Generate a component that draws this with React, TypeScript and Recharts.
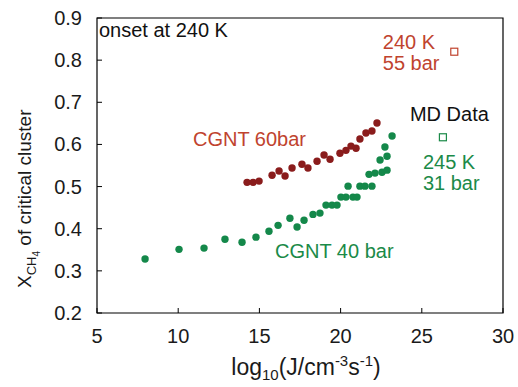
import React from 'react';
import { ScatterChart, Scatter, XAxis, YAxis, ReferenceArea, ReferenceDot, Label } from 'recharts';

// CGNT 60 bar (dark red dots)
const cgnt60X = [14.24, 14.61, 14.98, 15.78, 16.21, 16.58, 17.01, 17.62, 17.99, 18.55, 18.98, 19.35, 19.96, 20.33, 20.64, 20.95, 21.19, 21.56, 21.93, 22.24];
const cgnt60Y = [0.51, 0.51, 0.513, 0.527, 0.537, 0.525, 0.544, 0.553, 0.544, 0.56, 0.575, 0.565, 0.579, 0.586, 0.596, 0.591, 0.613, 0.627, 0.632, 0.651];

// CGNT 40 bar (green dots)
const cgnt40X = [7.96, 10.05, 11.59, 12.88, 13.93, 14.79, 15.59, 16.15, 16.88, 17.32, 17.75, 18.3, 18.73, 19.1, 19.47, 19.78, 20.02, 20.33, 20.76, 21.01, 20.46, 21.19, 21.5, 21.93, 21.75, 22.12, 22.55, 22.86, 22.43, 22.86, 22.73, 23.17];
const cgnt40Y = [0.328, 0.351, 0.354, 0.375, 0.368, 0.38, 0.394, 0.408, 0.425, 0.404, 0.42, 0.434, 0.437, 0.456, 0.456, 0.456, 0.475, 0.475, 0.475, 0.475, 0.501, 0.501, 0.501, 0.501, 0.529, 0.532, 0.534, 0.539, 0.563, 0.572, 0.594, 0.62];

// MD data (open squares)
const md240X = [27.0];
const md240Y = [0.82];
const md245X = [26.3];
const md245Y = [0.617];

const xTicks = [5, 10, 15, 20, 25, 30];
const yTicks = [0.2, 0.3, 0.4, 0.5, 0.6, 0.7, 0.8, 0.9];

const zip = (xs: number[], ys: number[]) => xs.map((x, i) => ({ x, y: ys[i] }));

const RED_DOT = '#8a1c1c';
const GREEN_DOT = '#14884a';
const RED_TEXT = '#c0432e';
const GREEN_TEXT = '#1b8a48';

const FONT = 20;

const annotations = [
  { text: 'onset at 240 K', x: 5.12, y: 0.872, color: '#111' },
  { text: '240 K', x: 22.6, y: 0.843, color: RED_TEXT },
  { text: '55 bar', x: 22.6, y: 0.793, color: RED_TEXT },
  { text: 'MD Data', x: 24.27, y: 0.672, color: '#111' },
  { text: '245 K', x: 25.07, y: 0.558, color: GREEN_TEXT },
  { text: '31 bar', x: 25.07, y: 0.508, color: GREEN_TEXT },
  { text: 'CGNT 60bar', x: 10.91, y: 0.613, color: RED_TEXT },
  { text: 'CGNT 40 bar', x: 15.96, y: 0.347, color: GREEN_TEXT },
];

const YTick = (props: any) => {
  const { x, y, payload } = props;
  const ax = x + 15;
  return (
    <g>
      <line x1={ax} x2={ax + 5} y1={y} y2={y} stroke="#000" />
      <text x={x} y={y} dy={7} textAnchor="end" fontSize={FONT} fill="#1a1a1a">
        {payload.value.toFixed(1)}
      </text>
    </g>
  );
};

const XTick = (props: any) => {
  const { x, y, payload } = props;
  const ay = y - 15;
  return (
    <g>
      <line x1={x} x2={x} y1={ay} y2={ay - 5} stroke="#000" />
      <text x={x} y={y} dy={15} textAnchor="middle" fontSize={FONT} fill="#1a1a1a">
        {payload.value}
      </text>
    </g>
  );
};

const XLabelContent = () => (
  <text x={306} y={375} textAnchor="middle" fontSize={23} fill="#1a1a1a">
    <tspan>log</tspan>
    <tspan fontSize={15} dy={5}>10</tspan>
    <tspan dy={-5}>(J/cm</tspan>
    <tspan fontSize={15} dy={-9}>-3</tspan>
    <tspan dy={9}>s</tspan>
    <tspan fontSize={15} dy={-9}>-1</tspan>
    <tspan dy={9}>)</tspan>
  </text>
);

const YLabelContent = () => (
  <text x={0} y={0} transform="translate(31, 288) rotate(-90)" textAnchor="start" fontSize={19} fill="#1a1a1a">
    <tspan>X</tspan>
    <tspan fontSize={13} dy={5}>CH</tspan>
    <tspan fontSize={10} dy={4}>4</tspan>
    <tspan dy={-9}> of critical cluster</tspan>
  </text>
);

const dotShape = (color: string) => (p: any) => <circle cx={p.cx} cy={p.cy} r={3.7} fill={color} />;
const squareShape = (color: string) => (p: any) => (
  <rect x={p.cx - 3.5} y={p.cy - 3.5} width={7} height={7} fill="#fff" stroke={color} strokeWidth={1.2} />
);

const textShape = (text: string, color: string) => (p: any) => (
  <text x={p.cx} y={p.cy} dy={7} textAnchor="start" fontSize={FONT} fill={color}>
    {text}
  </text>
);

export default function App() {
  return (
    <div style={{ position: 'absolute', left: 0, top: 0, width: 518, height: 387, background: '#fff', fontFamily: 'Arial, "Liberation Sans", sans-serif' }}>
      <ScatterChart width={518} height={387} margin={{ top: 18, right: 15, bottom: 0, left: 0 }}>
        <XAxis
          type="number"
          dataKey="x"
          domain={[5, 30]}
          ticks={xTicks}
          height={74}
          axisLine={false}
          tickLine={false}
          tickSize={0}
          tickMargin={15}
          tick={<XTick />}
          interval={0}
        >
          <Label content={XLabelContent} />
        </XAxis>
        <YAxis
          type="number"
          dataKey="y"
          domain={[0.2, 0.9]}
          ticks={yTicks}
          width={97}
          axisLine={false}
          tickLine={false}
          tickSize={0}
          tickMargin={15}
          tick={<YTick />}
          interval={0}
        >
          <Label content={YLabelContent} />
        </YAxis>
        <ReferenceArea x1={5} x2={30} y1={0.2} y2={0.9} fill="none" stroke="#000" strokeWidth={1.2} fillOpacity={0} />
        <Scatter data={zip(cgnt60X, cgnt60Y)} shape={dotShape(RED_DOT)} isAnimationActive={false} />
        <Scatter data={zip(cgnt40X, cgnt40Y)} shape={dotShape(GREEN_DOT)} isAnimationActive={false} />
        <Scatter data={zip(md240X, md240Y)} shape={squareShape(RED_TEXT)} isAnimationActive={false} />
        <Scatter data={zip(md245X, md245Y)} shape={squareShape(GREEN_TEXT)} isAnimationActive={false} />
        {annotations.map((a) => (
          <ReferenceDot key={a.text} x={a.x} y={a.y} r={0} ifOverflow="visible" shape={textShape(a.text, a.color)} />
        ))}
      </ScatterChart>
    </div>
  );
}
